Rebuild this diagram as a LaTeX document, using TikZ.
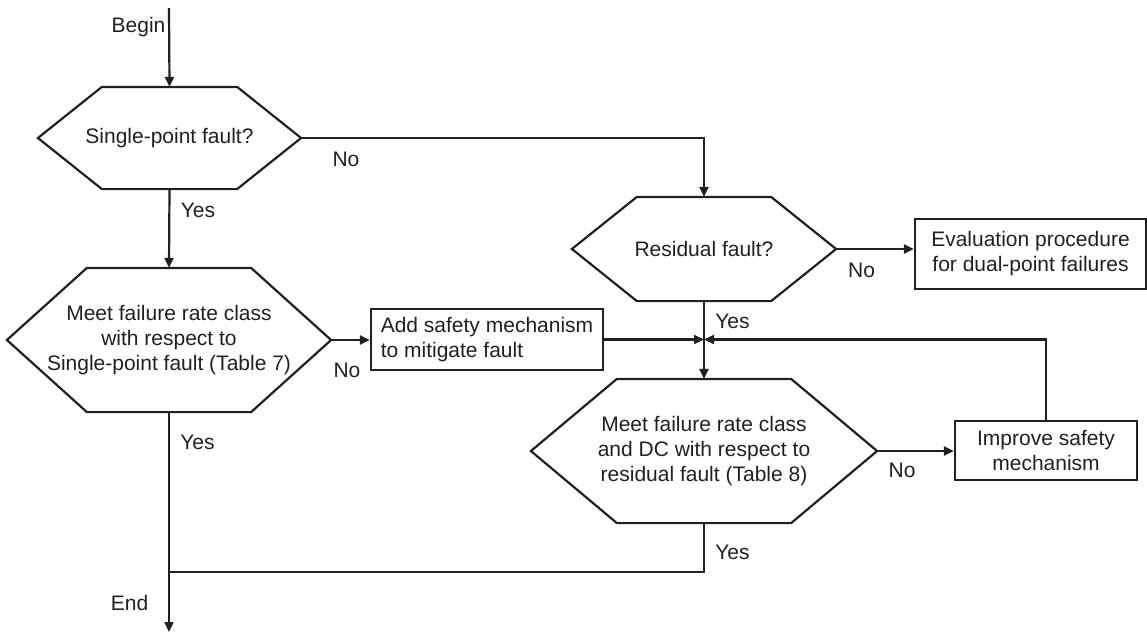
\documentclass[tikz,border=0pt]{standalone}
\usepackage{fontspec}
\setmainfont{Liberation Sans}
\usetikzlibrary{arrows.meta}
\definecolor{lincol}{RGB}{35,31,32}

\begin{document}
\begin{tikzpicture}[x=1pt, y=-1pt, line width=2.2pt, draw=lincol, text=lincol,
			every node/.style={font=\fontsize{21}{25}\selectfont},
			hexa/.style={inner sep=0pt, align=center},
			box/.style={draw, inner sep=0pt, align=center},
			arr/.style={-{Triangle[length=10pt,width=9pt]}}]
		\useasboundingbox (0,0) rectangle (1147,635);
		% decisions
		\node[hexa, minimum width=261pt, minimum height=100pt] (sp) at (169.5,138) {Single-point fault?};
		\node[hexa, minimum width=262pt, minimum height=102pt] (rf) at (704,249) {Residual fault?};
		\node[hexa, minimum width=322pt, minimum height=142pt] (mf1) at (169,340)
			{Meet failure rate class\\with respect to\\Single-point fault (Table 7)};
		\node[hexa, minimum width=344pt, minimum height=142pt] (mf2) at (704,451)
			{Meet failure rate class\\and DC with respect to\\residual fault (Table 8)};
		\foreach \n/\s in {sp/64, rf/65, mf1/80, mf2/86}
			\draw (\n.west) -- ([xshift=\s pt]\n.north west) -- ([xshift=-\s pt]\n.north east)
				-- (\n.east) -- ([xshift=-\s pt]\n.south east) -- ([xshift=\s pt]\n.south west) -- cycle;
		% actions
		\node[box, minimum width=232pt, minimum height=61pt, align=left] (add) at (487,339.5)
			{Add safety mechanism\\to mitigate fault};
		\node[box, minimum width=231pt, minimum height=70pt] (eval) at (1030.5,254)
			{Evaluation procedure\\for dual-point failures};
		\node[box, minimum width=182pt, minimum height=59pt] (impr) at (1046,450.5)
			{Improve safety\\mechanism};
		% free ends
		\coordinate (bg) at (169,8);
		\coordinate (en) at (169,632);
		\coordinate (jn) at (169,572);
		\node (tbg) at (138.5,27) {Begin};
		\node (ten) at (129.5,603) {End};
		% connectors
		\draw[arr] (bg) -- (sp.north);
		\draw[arr] (sp.east) -| (rf.north);
		\draw[arr] (sp.south) -- (mf1.north);
		\draw[arr] (rf.east) -- (rf.east -| eval.west);
		\draw[arr] (rf.south) -- (mf2.north);
		\draw[arr] (mf1.east) -- (mf1.east -| add.west);
		\draw[arr] (add.east) -- (add.east -| rf.south);
		\draw[arr] (impr.north) |- (rf.south |- add.east);
		\draw[arr] (mf2.east) -- (mf2.east -| impr.west);
		\draw[arr] (mf1.south) -- (en);
		\draw (mf2.south) |- (jn);
		% labels
		\node (no1) at (346,159) {No};
		\node (no2) at (347,370) {No};
		\node (no3) at (861.5,270) {No};
		\node (no4) at (902,470) {No};
		\node (ys1) at (198,210) {Yes};
		\node (ys2) at (732.5,321) {Yes};
		\node (ys3) at (197.5,442) {Yes};
		\node (ys4) at (732.5,552) {Yes};
		\end{tikzpicture}
\end{document}
